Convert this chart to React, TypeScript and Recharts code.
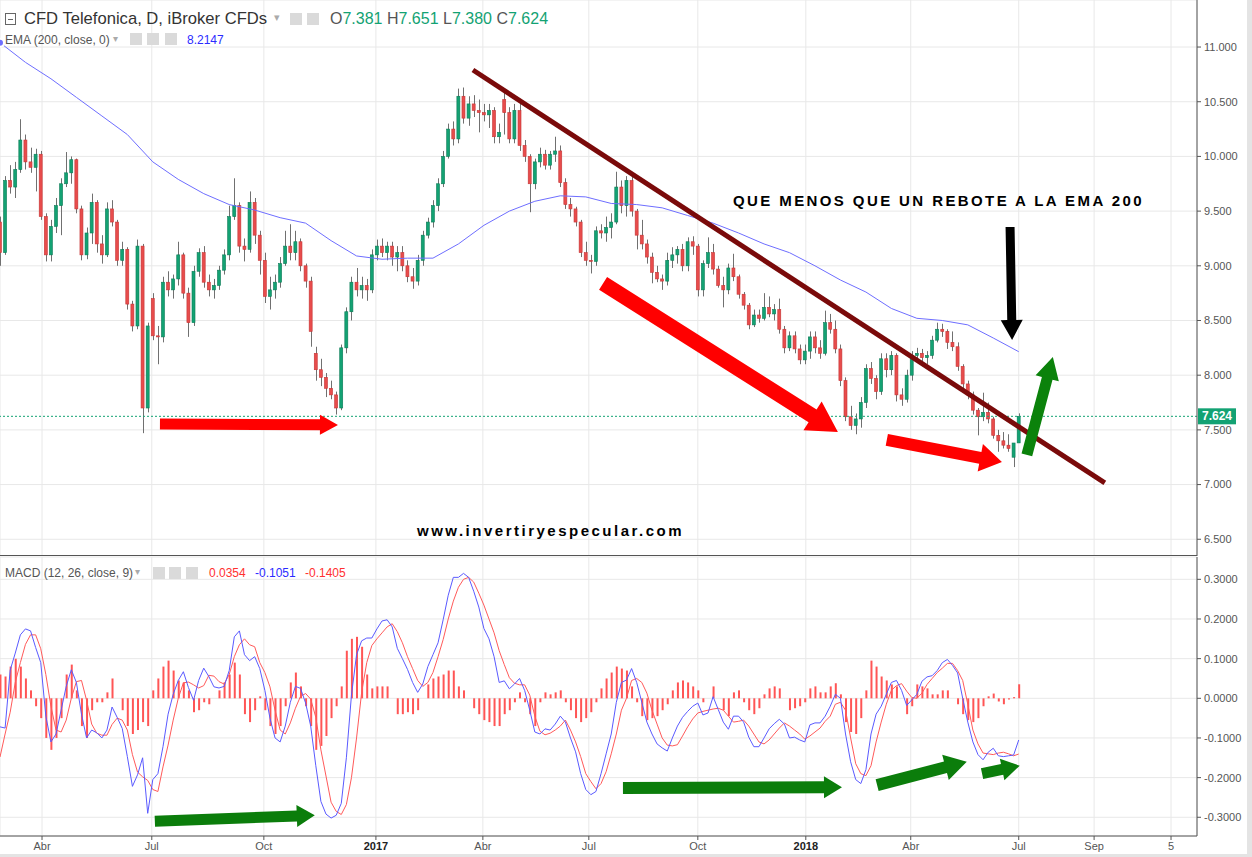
import React from "react";
import {
  Bar,
  CartesianGrid,
  ComposedChart,
  Label,
  Line,
  ReferenceLine,
  XAxis,
  YAxis,
} from "recharts";

// each slot = 3 trading days, slot 0 ~ late Feb 2016, slot 200 ~ early Jul 2018
const openP = [
  9.40, 9.12, 9.78, 9.72, 9.88, 10.15, 9.95, 9.90, 10.02, 9.45,
  9.10, 9.36, 9.55, 9.75, 9.85, 9.97, 9.52, 9.10, 9.30, 9.58,
  9.20, 9.10, 9.52, 9.40, 9.05, 9.15, 8.65, 8.45, 9.18, 7.70,
  8.70, 8.36, 8.35, 8.85, 8.78, 8.88, 9.10, 8.75, 8.48, 8.95,
  9.12, 8.85, 8.78, 8.82, 8.96, 9.10, 9.45, 9.55, 9.18, 9.15,
  9.58, 9.28, 9.05, 8.72, 8.78, 8.85, 9.02, 9.18, 9.12, 9.22,
  9.00, 8.86, 8.20, 8.05, 7.98, 7.88, 7.82, 7.70, 8.25, 8.58,
  8.85, 8.78, 8.82, 8.78, 9.10, 9.18, 9.12, 9.18, 9.08, 9.12,
  9.00, 8.90, 8.86, 9.05, 9.28, 9.40, 9.55, 9.75, 10.00, 10.25,
  10.16, 10.55, 10.35, 10.48, 10.42, 10.40, 10.38, 10.42, 10.18, 10.52,
  10.40, 10.16, 10.42, 10.10, 10.00, 9.75, 9.95, 10.02, 9.92, 10.02,
  10.05, 9.76, 9.56, 9.52, 9.40, 9.12, 9.05, 9.04, 9.32, 9.30,
  9.35, 9.40, 9.72, 9.55, 9.78, 9.50, 9.28, 9.20, 9.08, 8.94,
  8.88, 8.86, 9.05, 9.10, 9.15, 9.00, 9.22, 9.18, 8.78, 9.02,
  9.12, 8.97, 8.82, 8.78, 8.98, 8.90, 8.74, 8.64, 8.46, 8.55,
  8.52, 8.62, 8.56, 8.60, 8.42, 8.25, 8.36, 8.24, 8.14, 8.22,
  8.35, 8.25, 8.20, 8.48, 8.42, 8.24, 7.95, 7.62, 7.54, 7.60,
  7.75, 8.06, 7.97, 7.85, 8.15, 8.05, 8.18, 7.82, 7.78, 8.00,
  8.18, 8.20, 8.16, 8.18, 8.32, 8.42, 8.40, 8.30, 8.26, 8.08,
  7.92, 7.82, 7.68, 7.62, 7.66, 7.60, 7.45, 7.40, 7.36, 7.25,
  7.381,
];
const highP = [
  9.45, 9.82, 9.92, 9.95, 10.34, 10.20, 10.08, 10.07, 10.05, 9.48,
  9.42, 9.62, 9.80, 10.04, 10.00, 9.98, 9.55, 9.35, 9.66, 9.60,
  9.28, 9.58, 9.60, 9.42, 9.22, 9.17, 8.68, 9.24, 9.20, 8.48,
  8.75, 8.45, 8.90, 8.95, 8.92, 9.22, 9.12, 8.80, 9.00, 9.16,
  9.18, 8.92, 8.88, 9.00, 9.15, 9.55, 9.80, 9.58, 9.25, 9.68,
  9.62, 9.32, 9.12, 8.90, 8.92, 9.08, 9.32, 9.38, 9.32, 9.25,
  9.02, 8.90, 8.26, 8.15, 8.02, 7.95, 7.85, 8.28, 8.62, 8.90,
  8.98, 8.90, 8.88, 9.15, 9.24, 9.25, 9.22, 9.22, 9.18, 9.18,
  9.05, 8.98, 9.10, 9.32, 9.44, 9.60, 9.80, 10.05, 10.30, 10.32,
  10.62, 10.63, 10.55, 10.56, 10.52, 10.48, 10.48, 10.45, 10.30, 10.58,
  10.45, 10.48, 10.50, 10.15, 10.02, 9.98, 10.08, 10.06, 10.05, 10.18,
  10.10, 9.80, 9.62, 9.54, 9.42, 9.22, 9.10, 9.36, 9.38, 9.45,
  9.48, 9.86, 9.78, 9.82, 9.82, 9.52, 9.42, 9.24, 9.12, 9.00,
  8.92, 9.12, 9.17, 9.18, 9.20, 9.26, 9.27, 9.20, 9.05, 9.26,
  9.20, 9.00, 8.90, 9.02, 9.11, 8.92, 8.76, 8.66, 8.60, 8.60,
  8.75, 8.72, 8.65, 8.70, 8.45, 8.40, 8.40, 8.28, 8.28, 8.40,
  8.40, 8.32, 8.59, 8.56, 8.50, 8.28, 7.98, 7.72, 7.65, 7.80,
  8.10, 8.12, 8.00, 8.20, 8.20, 8.22, 8.20, 7.88, 8.05, 8.22,
  8.25, 8.24, 8.22, 8.36, 8.48, 8.47, 8.42, 8.40, 8.30, 8.10,
  7.95, 7.85, 7.70, 7.84, 7.75, 7.62, 7.50, 7.48, 7.46, 7.38,
  7.651,
];
const lowP = [
  9.00, 9.10, 9.66, 9.62, 9.85, 9.88, 9.85, 9.68, 9.42, 9.04,
  9.04, 9.30, 9.28, 9.72, 9.75, 9.48, 9.05, 9.06, 9.20, 9.12,
  9.02, 9.08, 9.36, 9.00, 9.00, 8.60, 8.40, 8.42, 7.47, 7.66,
  8.32, 8.10, 8.30, 8.72, 8.70, 8.82, 8.70, 8.35, 8.45, 8.90,
  8.80, 8.72, 8.70, 8.78, 8.92, 9.05, 9.42, 9.12, 9.04, 9.12,
  9.20, 8.92, 8.66, 8.60, 8.70, 8.80, 9.00, 9.05, 9.05, 8.95,
  8.80, 8.26, 7.95, 7.90, 7.80, 7.78, 7.64, 7.68, 8.20, 8.50,
  8.72, 8.70, 8.68, 8.75, 9.05, 9.08, 9.05, 9.00, 8.95, 8.95,
  8.85, 8.79, 8.82, 9.00, 9.25, 9.35, 9.50, 9.72, 9.98, 10.10,
  10.12, 10.30, 10.28, 10.36, 10.22, 10.32, 10.26, 10.12, 10.12, 10.20,
  10.12, 10.12, 10.05, 9.95, 9.49, 9.70, 9.90, 9.88, 9.88, 9.95,
  9.72, 9.52, 9.45, 9.36, 9.08, 9.00, 8.93, 9.00, 9.25, 9.22,
  9.25, 9.38, 9.48, 9.45, 9.45, 9.15, 9.15, 9.02, 8.84, 8.85,
  8.78, 8.82, 8.98, 9.02, 8.95, 8.95, 9.10, 8.72, 8.72, 8.98,
  8.92, 8.80, 8.62, 8.74, 8.86, 8.70, 8.60, 8.42, 8.44, 8.48,
  8.50, 8.53, 8.50, 8.38, 8.20, 8.22, 8.20, 8.10, 8.10, 8.15,
  8.20, 8.15, 8.18, 8.38, 8.20, 7.90, 7.58, 7.50, 7.46, 7.52,
  7.70, 7.92, 7.78, 7.82, 7.98, 8.00, 7.76, 7.72, 7.75, 7.95,
  8.12, 8.12, 8.10, 8.15, 8.30, 8.35, 8.24, 8.22, 8.04, 7.88,
  7.78, 7.64, 7.45, 7.58, 7.56, 7.42, 7.30, 7.33, 7.30, 7.16,
  7.380,
];
const closeP = [
  9.12, 9.78, 9.72, 9.88, 10.15, 9.95, 9.90, 10.02, 9.45, 9.10,
  9.36, 9.55, 9.75, 9.85, 9.97, 9.52, 9.10, 9.30, 9.58, 9.20,
  9.10, 9.52, 9.40, 9.05, 9.15, 8.65, 8.45, 9.18, 7.70, 8.45,
  8.36, 8.35, 8.85, 8.78, 8.88, 9.10, 8.75, 8.48, 8.95, 9.12,
  8.85, 8.78, 8.82, 8.96, 9.10, 9.45, 9.55, 9.18, 9.15, 9.58,
  9.28, 9.05, 8.72, 8.78, 8.85, 9.02, 9.18, 9.12, 9.22, 9.00,
  8.86, 8.40, 8.05, 7.98, 7.88, 7.82, 7.70, 8.25, 8.58, 8.85,
  8.78, 8.82, 8.78, 9.10, 9.18, 9.12, 9.18, 9.08, 9.12, 9.00,
  8.90, 8.86, 9.05, 9.28, 9.40, 9.55, 9.75, 10.00, 10.25, 10.16,
  10.55, 10.35, 10.48, 10.42, 10.40, 10.38, 10.42, 10.18, 10.22, 10.40,
  10.16, 10.42, 10.10, 10.00, 9.75, 9.95, 10.02, 9.92, 10.02, 10.05,
  9.76, 9.56, 9.52, 9.40, 9.12, 9.05, 9.04, 9.32, 9.30, 9.35,
  9.40, 9.72, 9.55, 9.78, 9.50, 9.28, 9.20, 9.08, 8.94, 8.88,
  8.86, 9.05, 9.10, 9.15, 9.00, 9.22, 9.18, 8.78, 9.02, 9.12,
  8.97, 8.82, 8.78, 8.98, 8.90, 8.74, 8.64, 8.46, 8.55, 8.52,
  8.62, 8.56, 8.60, 8.42, 8.25, 8.36, 8.24, 8.14, 8.22, 8.35,
  8.25, 8.20, 8.48, 8.42, 8.24, 7.95, 7.62, 7.54, 7.60, 7.75,
  8.06, 7.97, 7.85, 8.15, 8.05, 8.18, 7.82, 7.78, 8.00, 8.18,
  8.20, 8.16, 8.18, 8.32, 8.42, 8.40, 8.30, 8.26, 8.08, 7.92,
  7.82, 7.68, 7.62, 7.66, 7.60, 7.45, 7.40, 7.36, 7.33, 7.38,
  7.624,
];

// EMA 200 read every 5 slots
const emaSlots = [
  0, 5, 10, 15, 20, 25, 30, 35, 40, 45, 50, 55, 60, 65, 70, 75, 80, 85, 90, 95,
  100, 105, 110, 115, 120, 125, 130, 135, 140, 145, 150, 155, 160, 165, 170,
  175, 180, 185, 190, 195, 200,
];
const emaVals = [
  11.04, 10.86, 10.71, 10.54, 10.37, 10.2, 9.95, 9.79, 9.66, 9.56, 9.51, 9.44,
  9.39, 9.23, 9.09, 9.06, 9.07, 9.07, 9.2, 9.37, 9.5, 9.59, 9.64, 9.63, 9.57,
  9.56, 9.53, 9.46, 9.39, 9.3, 9.2, 9.12, 9.0, 8.87, 8.76, 8.61, 8.52, 8.5,
  8.46, 8.34, 8.2147,
];

const macdVals = [
  -0.072, -0.075, 0.071, 0.114, 0.16, 0.175, 0.17, 0.128, 0.09, -0.045,
  -0.11, -0.09, -0.03, 0.03, 0.072, 0.04, -0.04, -0.1, -0.08, -0.087,
  -0.1, -0.08, -0.022, -0.048, -0.076, -0.147, -0.222, -0.193, -0.15, -0.29,
  -0.205, -0.19, -0.122, -0.04, 0.01, 0.045, 0.067, 0.027, -0.005, 0.045,
  0.076, 0.055, 0.029, 0.026, 0.03, 0.07, 0.155, 0.17, 0.11, 0.095,
  0.105, 0.075, 0.02, -0.05, -0.1, -0.11, -0.07, -0.01, 0.03, 0.025,
  -0.012, -0.07, -0.17, -0.26, -0.292, -0.302, -0.295, -0.265, -0.15, 0.008,
  0.11, 0.145, 0.152, 0.152, 0.175, 0.195, 0.198, 0.18, 0.126, 0.1,
  0.073, 0.04, 0.015, 0.036, 0.08, 0.11, 0.14, 0.198, 0.26, 0.305,
  0.305, 0.315, 0.305, 0.27, 0.23, 0.176, 0.15, 0.105, 0.04, 0.044,
  0.024, 0.036, 0.05, 0.02, -0.03, -0.085, -0.09, -0.077, -0.08, -0.065,
  -0.045, -0.06, -0.1, -0.135, -0.19, -0.23, -0.243, -0.235, -0.19, -0.14,
  -0.09, -0.01, 0.04, 0.046, 0.075, 0.04, -0.01, -0.06, -0.09, -0.115,
  -0.125, -0.133, -0.1, -0.07, -0.048, -0.033, -0.02, -0.012, -0.042, -0.037,
  0.004, -0.028, -0.06, -0.078, -0.045, -0.045, -0.06, -0.098, -0.122, -0.122,
  -0.1, -0.077, -0.064, -0.053, -0.065, -0.1, -0.098, -0.105, -0.11, -0.067,
  -0.062, -0.062, -0.045, -0.02, 0.01, 0.0, -0.09, -0.16, -0.205, -0.215,
  -0.18, -0.09, -0.04, -0.02, 0.01, 0.04, 0.045, 0.02, -0.018, -0.004,
  0.01, 0.043, 0.054, 0.057, 0.07, 0.09, 0.098, 0.083, 0.064, 0.0,
  -0.06, -0.11, -0.142, -0.155, -0.136, -0.126, -0.145, -0.147, -0.145, -0.143,
  -0.1051,
];
const signalVals = [
  -0.148, -0.09, -0.035, 0.04, 0.09, 0.136, 0.16, 0.16, 0.125, 0.06,
  -0.02, -0.08, -0.085, -0.055, 0.0, 0.042, 0.045, -0.005, -0.065, -0.088,
  -0.093, -0.093, -0.066, -0.05, -0.055, -0.08, -0.142, -0.186, -0.198, -0.207,
  -0.23, -0.235, -0.173, -0.118, -0.055, 0.0, 0.039, 0.041, 0.034, 0.026,
  0.032, 0.058, 0.056, 0.042, 0.036, 0.06, 0.105, 0.135, 0.15, 0.135,
  0.13, 0.09, 0.065, 0.029, -0.03, -0.08, -0.09, -0.062, -0.025, 0.005,
  0.012, -0.002, -0.048, -0.13, -0.196, -0.262, -0.285, -0.293, -0.268, -0.2,
  -0.1, 0.015, 0.09, 0.133, 0.15, 0.165, 0.18, 0.188, 0.168, 0.14,
  0.105, 0.075, 0.045, 0.03, 0.04, 0.065, 0.105, 0.148, 0.2, 0.245,
  0.28, 0.3, 0.305, 0.293, 0.265, 0.235, 0.2, 0.165, 0.12, 0.085,
  0.052, 0.038, 0.034, 0.034, 0.008, -0.045, -0.083, -0.092, -0.088, -0.08,
  -0.07, -0.055, -0.08, -0.11, -0.147, -0.19, -0.21, -0.228, -0.215, -0.185,
  -0.14, -0.09, -0.03, 0.0, 0.045, 0.05, 0.04, 0.013, -0.03, -0.065,
  -0.1, -0.118, -0.12, -0.117, -0.095, -0.072, -0.052, -0.037, -0.033, -0.03,
  -0.027, -0.025, -0.03, -0.045, -0.06, -0.058, -0.055, -0.07, -0.09, -0.11,
  -0.115, -0.105, -0.09, -0.075, -0.062, -0.07, -0.08, -0.09, -0.103, -0.095,
  -0.085, -0.075, -0.058, -0.045, -0.015, -0.01, -0.03, -0.1, -0.165, -0.19,
  -0.195, -0.17, -0.11, -0.06, -0.015, 0.02, 0.032, 0.037, 0.018, 0.002,
  0.0, 0.013, 0.035, 0.05, 0.065, 0.076, 0.088, 0.088, 0.07, 0.045,
  -0.015, -0.08, -0.115, -0.138, -0.14, -0.142, -0.138, -0.136, -0.14, -0.145,
  -0.1405,
];
const histVals = [
  0.06, 0.055, 0.08, 0.1, 0.08, 0.05, 0.02, -0.02, -0.05, -0.1,
  -0.13, -0.1, -0.05, 0.06, 0.085, 0.02, -0.07, -0.1, -0.03, -0.01,
  -0.01, 0.015, 0.05, 0.0, -0.03, -0.07, -0.09, -0.08, -0.06, -0.07,
  0.02, 0.05, 0.08, 0.095, 0.07, 0.045, 0.04, 0.02, -0.035, -0.03,
  -0.01, -0.015, 0.0, 0.02, 0.04, 0.06, 0.09, 0.06, -0.04, -0.06,
  -0.03, 0.005, -0.03, -0.07, -0.09, -0.07, -0.02, 0.04, 0.065, 0.03,
  -0.02, -0.07, -0.13, -0.12, -0.095, -0.05, -0.02, 0.03, 0.12, 0.15,
  0.155, 0.13, 0.06, 0.025, 0.03, 0.03, 0.03, 0.0, -0.04, -0.04,
  -0.035, -0.04, -0.03, 0.0, 0.035, 0.05, 0.055, 0.06, 0.07, 0.07,
  0.03, 0.02, 0.0, -0.025, -0.04, -0.055, -0.06, -0.07, -0.07, -0.04,
  -0.03, -0.01, 0.015, -0.01, -0.04, -0.07, -0.01, 0.015, 0.01, 0.015,
  0.02, -0.01, -0.03, -0.05, -0.06, -0.05, -0.035, -0.01, 0.025, 0.05,
  0.065, 0.08, 0.075, 0.07, 0.03, -0.01, -0.045, -0.055, -0.05, -0.045,
  -0.03, -0.015, 0.02, 0.04, 0.045, 0.04, 0.03, 0.02, -0.01, 0.0,
  0.03, 0.0, -0.03, -0.045, 0.015, 0.02, -0.01, -0.03, -0.04, -0.025,
  0.01, 0.025, 0.03, 0.025, 0.0, -0.03, -0.025, -0.02, -0.01, 0.025,
  0.03, 0.015, 0.015, 0.03, 0.038, 0.01, -0.06, -0.085, -0.09, -0.05,
  0.02, 0.095, 0.08, 0.055, 0.045, 0.035, 0.03, 0.0, -0.04, -0.02,
  0.035, 0.03, 0.025, 0.01, 0.01, 0.02, 0.02, 0.0, -0.015, -0.04,
  -0.055, -0.06, -0.05, -0.02, 0.005, 0.012, -0.008, -0.015, -0.003, 0.003,
  0.0354,
];

const tickSlots = [8.25, 29.8, 51.8, 73.8, 94.8, 115.6, 137, 158.2, 178.8, 200, 214.8, 229.9];
const tickLabels = ["Abr", "Jul", "Oct", "2017", "Abr", "Jul", "Oct", "2018", "Abr", "Jul", "Sep", "5"];
const priceTicks = [6.5, 7, 7.5, 8, 8.5, 9, 9.5, 10, 10.5, 11];
const macdTicks = [-0.3, -0.2, -0.1, 0, 0.1, 0.2, 0.3];

// drawn annotations (slot, value)
const trendLine = [[92.85, 10.79], [216.9, 7.015]];
const priceArrows = [
  { from: [31.4, 7.554], to: [66.35, 7.545], color: "#ff0000", w: 11, hw: 20, hl: 18 },
  { from: [118.4, 8.84], to: [164.5, 7.481], color: "#ff0000", w: 15, hw: 34, hl: 30 },
  { from: [174.1, 7.408], to: [196.7, 7.207], color: "#ff0000", w: 12, hw: 28, hl: 22 },
  { from: [198.3, 9.355], to: [198.7, 8.322], color: "#000000", w: 9, hw: 22, hl: 20 },
  { from: [201.6, 7.271], to: [206.7, 8.166], color: "#0b820b", w: 11, hw: 24, hl: 22 },
];
const macdArrows = [
  { from: [30.4, -0.31], to: [61.8, -0.295], color: "#0b7d0b", w: 11, hw: 22, hl: 18 },
  { from: [122.3, -0.226], to: [165.3, -0.224], color: "#0b7d0b", w: 12, hw: 22, hl: 18 },
  { from: [172.2, -0.219], to: [189.8, -0.16], color: "#0b7d0b", w: 12, hw: 26, hl: 22 },
  { from: [192.8, -0.19], to: [200.2, -0.17], color: "#0b7d0b", w: 11, hw: 22, hl: 18 },
];

const priceData = closeP.map((c, i) => ({
  i,
  open: openP[i],
  high: highP[i],
  low: lowP[i],
  close: c,
  range: [lowP[i], highP[i]],
  ema: null as number | null,
}));
emaSlots.forEach((s, k) => {
  priceData[s].ema = emaVals[k];
});

const macdData = macdVals.map((m, i) => ({
  i,
  macd: m,
  signal: signalVals[i],
  hist: histVals[i],
}));

const last = closeP.length - 1;

const Candle = (props: any) => {
  const { x, y, width, height, payload } = props;
  if (!payload || height == null) return null;
  const top = Math.min(y, y + height);
  const span = Math.abs(height);
  const k = payload.high > payload.low ? span / (payload.high - payload.low) : 0;
  const yO = top + (payload.high - payload.open) * k;
  const yC = top + (payload.high - payload.close) * k;
  const up = payload.close >= payload.open;
  const cx = Math.round(x + width / 2) + 0.5;
  return (
    <g>
      <line x1={cx} x2={cx} y1={top} y2={top + span} stroke="#707070" strokeWidth={1} />
      <rect
        x={x}
        y={Math.min(yO, yC)}
        width={width}
        height={Math.max(1, Math.abs(yO - yC))}
        fill={up ? "#13a273" : "#e84c4c"}
        stroke={up ? "#0a7a55" : "#c43535"}
        strokeWidth={0.6}
      />
    </g>
  );
};

const arrowShape = (color: string, w: number, hw: number, hl: number) => (p: any) => {
  const x1 = Number(p.x1), y1 = Number(p.y1), x2 = Number(p.x2), y2 = Number(p.y2);
  const len = Math.hypot(x2 - x1, y2 - y1) || 1;
  const ux = (x2 - x1) / len, uy = (y2 - y1) / len;
  const nx = -uy, ny = ux;
  const bx = x2 - ux * hl, by = y2 - uy * hl;
  const pts = [
    [x1 + (nx * w) / 2, y1 + (ny * w) / 2],
    [bx + (nx * w) / 2, by + (ny * w) / 2],
    [bx + (nx * hw) / 2, by + (ny * hw) / 2],
    [x2, y2],
    [bx - (nx * hw) / 2, by - (ny * hw) / 2],
    [bx - (nx * w) / 2, by - (ny * w) / 2],
    [x1 - (nx * w) / 2, y1 - (ny * w) / 2],
  ];
  return <polygon points={pts.map((q) => q.join(",")).join(" ")} fill={color} />;
};

const priceTag = (p: any) => {
  const vb = p.viewBox || {};
  const x = (vb.x || 0) + (vb.width || 0);
  const y = vb.y || 0;
  return (
    <g>
      <rect x={x + 1} y={y - 8} width={38} height={16} fill="#13a273" />
      <text x={x + 20} y={y + 4} textAnchor="middle" fill="#fff" fontSize={12} fontWeight={700}>
        {closeP[last].toFixed(3)}
      </text>
    </g>
  );
};

const TimeTick = (p: any) => {
  const label = tickLabels[p.index] ?? "";
  const isYear = /^\d{4}$/.test(label);
  return (
    <text
      x={p.x}
      y={p.y + 8}
      textAnchor="middle"
      fontSize={11}
      fill={isYear ? "#222" : "#555"}
      fontWeight={isYear ? 700 : 400}
    >
      {label}
    </text>
  );
};

const iconBox = (left: number, top: number) => (
  <div
    style={{ position: "absolute", left, top, width: 12, height: 12, background: "#dadada" }}
  />
);

const abs = (left: number, top: number, extra: React.CSSProperties = {}): React.CSSProperties => ({
  position: "absolute",
  left,
  top,
  whiteSpace: "nowrap",
  ...extra,
});

export default function App() {
  const green = "#13a273";
  return (
    <div
      style={{
        position: "absolute",
        left: 0,
        top: 0,
        width: 1252,
        height: 857,
        background: "#fff",
        overflow: "hidden",
        fontFamily: "'Liberation Sans', Arial, sans-serif",
      }}
    >
      <div style={{ position: "absolute", left: 0, top: 0 }}>
        <ComposedChart width={1252} height={556} data={priceData} margin={{ top: 0, right: 0, bottom: 0, left: 0 }}>
          <CartesianGrid stroke="#e8e8e8" />
          <XAxis dataKey="i" type="number" domain={[0, 235]} ticks={tickSlots} allowDataOverflow hide />
          <YAxis
            orientation="right"
            type="number"
            domain={[6.347, 11.43]}
            ticks={priceTicks}
            allowDataOverflow
            width={55}
            tickSize={4}
            tickMargin={3}
            axisLine={{ stroke: "#555" }}
            tickLine={{ stroke: "#555" }}
            tick={{ fontSize: 11, fill: "#555" }}
            tickFormatter={(v: number) => v.toFixed(3)}
          />
          <ReferenceLine y={closeP[last]} stroke={green} strokeDasharray="2 2">
            <Label content={priceTag} />
          </ReferenceLine>
          <Line
            dataKey="ema"
            stroke="#6e6eff"
            strokeWidth={1}
            dot={false}
            connectNulls
            isAnimationActive={false}
          />
          <Bar dataKey="range" barSize={3} shape={Candle} isAnimationActive={false} />
          <ReferenceLine
            segment={[
              { x: trendLine[0][0], y: trendLine[0][1] },
              { x: trendLine[1][0], y: trendLine[1][1] },
            ]}
            stroke="#7a0a0a"
            strokeWidth={5}
          />
          {priceArrows.map((a, k) => (
            <ReferenceLine
              key={"pa" + k}
              segment={[
                { x: a.from[0], y: a.from[1] },
                { x: a.to[0], y: a.to[1] },
              ]}
              shape={arrowShape(a.color, a.w, a.hw, a.hl)}
            />
          ))}
        </ComposedChart>
      </div>

      <div style={{ position: "absolute", left: 0, top: 555, width: 1197, height: 1, background: "#555" }} />

      <div style={{ position: "absolute", left: 0, top: 556 }}>
        <ComposedChart width={1252} height={301} data={macdData} margin={{ top: 1, right: 0, bottom: 0, left: 0 }}>
          <CartesianGrid stroke="#e8e8e8" />
          <XAxis
            dataKey="i"
            type="number"
            domain={[0, 235]}
            ticks={tickSlots}
            allowDataOverflow
            height={21}
            tickSize={4}
            axisLine={{ stroke: "#555" }}
            tickLine={{ stroke: "#555" }}
            tick={<TimeTick />}
            interval={0}
          />
          <YAxis
            orientation="right"
            type="number"
            domain={[-0.3472, 0.3563]}
            ticks={macdTicks}
            allowDataOverflow
            width={55}
            tickSize={4}
            tickMargin={3}
            axisLine={{ stroke: "#555" }}
            tickLine={{ stroke: "#555" }}
            tick={{ fontSize: 11, fill: "#555" }}
            tickFormatter={(v: number) => v.toFixed(4)}
          />
          <Bar dataKey="hist" barSize={2} fill="#ff5555" isAnimationActive={false} />
          <Line dataKey="signal" stroke="#ff5a5a" strokeWidth={1} dot={false} isAnimationActive={false} />
          <Line dataKey="macd" stroke="#5a5aff" strokeWidth={1} dot={false} isAnimationActive={false} />
          {macdArrows.map((a, k) => (
            <ReferenceLine
              key={"ma" + k}
              segment={[
                { x: a.from[0], y: a.from[1] },
                { x: a.to[0], y: a.to[1] },
              ]}
              shape={arrowShape(a.color, a.w, a.hw, a.hl)}
            />
          ))}
        </ComposedChart>
      </div>

      {/* title rows */}
      <div style={abs(5, 13, { width: 9, height: 10, border: "1px solid #666" })}>
        <div style={{ position: "absolute", left: 2, top: 5, width: 5, height: 1, background: "#666" }} />
      </div>
      <div style={abs(24, 10, { fontSize: 16.6, color: "#333", lineHeight: "18px" })}>
        CFD Telefonica, D, iBroker CFDs
      </div>
      <div style={abs(274, 11, { fontSize: 11, color: "#aaa" })}>▾</div>
      {iconBox(290, 13)}
      {iconBox(307, 13)}
      <div style={abs(330, 10, { fontSize: 16, lineHeight: "18px", color: "#555" })}>
        O<span style={{ color: green }}>{openP[last].toFixed(3)}</span>{" "}
        H<span style={{ color: green }}>{highP[last].toFixed(3)}</span>{" "}
        L<span style={{ color: green }}>{lowP[last].toFixed(3)}</span>{" "}
        C<span style={{ color: green }}>{closeP[last].toFixed(3)}</span>
      </div>

      <div style={abs(5, 33, { fontSize: 12, color: "#555", lineHeight: "14px" })}>EMA (200, close, 0)</div>
      <div style={abs(113, 33, { fontSize: 10, color: "#aaa" })}>▾</div>
      {iconBox(130, 33)}
      {iconBox(147, 33)}
      {iconBox(165, 33)}
      <div style={abs(187, 33, { fontSize: 12, color: "#2b2bff", lineHeight: "14px" })}>
        {emaVals[emaVals.length - 1].toFixed(4)}
      </div>

      <div style={abs(5, 566, { fontSize: 12, color: "#555", lineHeight: "14px" })}>MACD (12, 26, close, 9)</div>
      <div style={abs(135, 566, { fontSize: 10, color: "#aaa" })}>▾</div>
      {iconBox(153, 567)}
      {iconBox(169, 567)}
      {iconBox(186, 567)}
      <div style={abs(209, 566, { fontSize: 12, color: "#ff3030", lineHeight: "14px" })}>
        {histVals[last].toFixed(4)}
      </div>
      <div style={abs(255, 566, { fontSize: 12, color: "#2b2bff", lineHeight: "14px" })}>
        {macdVals[last].toFixed(4)}
      </div>
      <div style={abs(305, 566, { fontSize: 12, color: "#ff3030", lineHeight: "14px" })}>
        {signalVals[last].toFixed(4)}
      </div>

      {/* annotations */}
      <div style={abs(733, 192, { fontSize: 15, fontWeight: 700, letterSpacing: 2.4, color: "#000" })}>
        QUE MENOS QUE UN REBOTE A LA EMA 200
      </div>
      <div style={abs(417, 522, { fontSize: 15, fontWeight: 700, letterSpacing: 2.5, color: "#000" })}>
        www.invertiryespecular.com
      </div>

      <div style={{ position: "absolute", left: 1247, top: 0, width: 5, height: 857, background: "#e4e4e4" }} />
      <div style={{ position: "absolute", left: 0, top: 854, width: 1252, height: 3, background: "#e4e4e4" }} />
    </div>
  );
}
